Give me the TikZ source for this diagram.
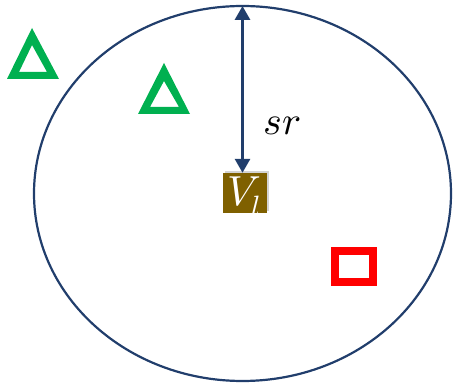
\documentclass[tikz,border=0pt]{standalone}
\usepackage{xcolor}
\usepackage{amsmath}
\usepackage{unicode-math}
\usepackage{tikz}
\usetikzlibrary{arrows.meta,shadows}

\definecolor{navy}{RGB}{33,62,108}
\definecolor{mygreen}{RGB}{0,176,80}
\definecolor{mybrown}{RGB}{127,96,0}

\tikzset{
  vlbox/.style={fill=mybrown, text=white, minimum width=44pt, minimum height=40pt, inner sep=0pt,
    drop shadow={opacity=0.35, shadow xshift=1.5pt, shadow yshift=1.5pt}},
  marker/.style={fill=mygreen, even odd rule}
}

\begin{document}
\begin{tikzpicture}[x=1pt, y=-1pt]

\useasboundingbox (0,0) rectangle (453,387);

\draw[line width=2.2pt, navy] (242.5,193.5) ellipse [x radius=208.5, y radius=187.5];

\node[vlbox] (vl) at (245,193) {};
\node[text=white, inner sep=0pt] (vltext) at (244,197) {\fontsize{42}{44}\selectfont $V_l$};
\coordinate (top) at (242.5,6);

\draw[{Triangle[width=15pt,length=14pt]}-{Triangle[width=15pt,length=14pt]}, line width=3pt, navy]
  (top) -- (vl.north -| top);

\node (sr) at (282,126) {\fontsize{40}{44}\selectfont $sr$};

% triangles
\fill[marker] (32,28) -- (7,79) -- (59,79) -- cycle (32,45) -- (19,72) -- (47,72) -- cycle;
\fill[marker] (164,63) -- (138,114) -- (190,114) -- cycle (164,81) -- (150,107) -- (179,107) -- cycle;

% square
\draw[red, line width=8pt] (335,251) rectangle (373,282);

\end{tikzpicture}
\end{document}
